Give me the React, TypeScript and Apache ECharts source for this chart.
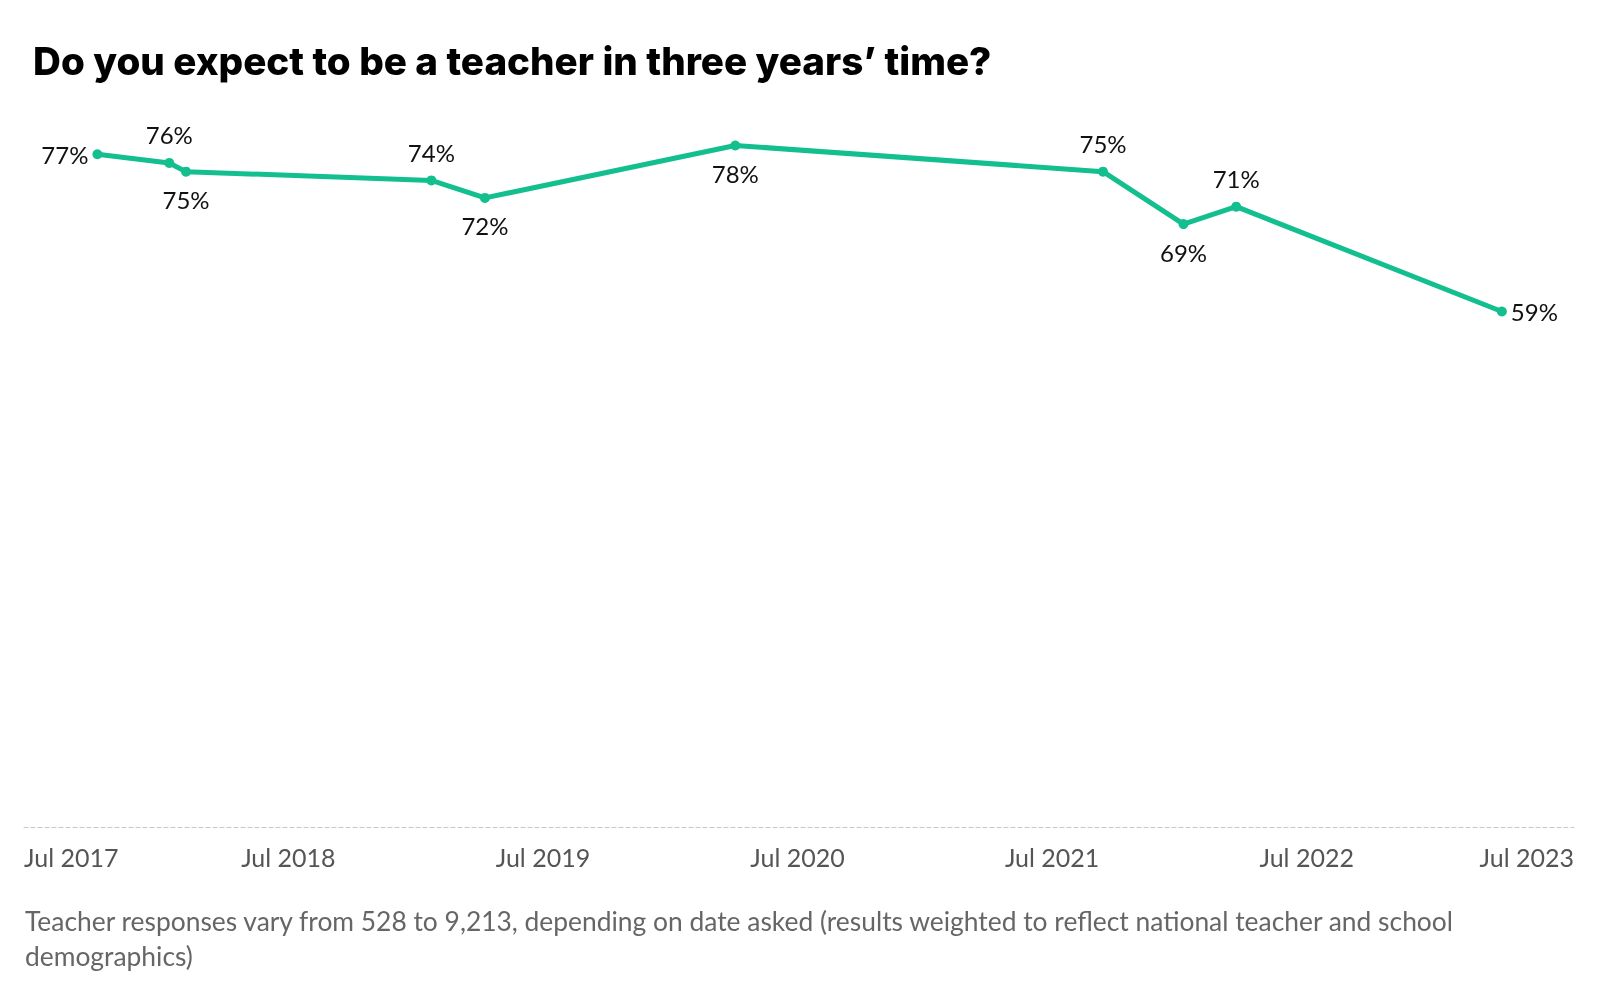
import React, { useEffect, useRef } from "react";
import * as echarts from "echarts";

const TITLE = "Do you expect to be a teacher in three years’ time?";
const FOOTNOTE =
  "Teacher responses vary from 528 to 9,213, depending on date asked (results weighted to reflect national teacher and school demographics)";

const surveyDates = [
  "2017-10-01",
  "2018-01-13",
  "2018-02-06",
  "2019-01-24",
  "2019-04-09",
  "2020-04-03",
  "2021-09-13",
  "2022-01-07",
  "2022-03-22",
  "2023-04-07",
];
const expectTeacher = [77, 76, 75, 74, 72, 78, 75, 69, 71, 59];
const labelPositions = ["left", "top", "bottom", "top", "bottom", "bottom", "top", "bottom", "top", "right"];
const tickYears = [2017, 2018, 2019, 2020, 2021, 2022, 2023];

const ORIGIN = { y: 2017, m: 7 };
const AXIS_MIN = -0.46;
const AXIS_MAX = 72.6;

function monthsSinceOrigin(d: string): number {
  const [y, m, day] = d.split("-").map(Number);
  const dim = new Date(y, m, 0).getDate();
  return (y - ORIGIN.y) * 12 + (m - ORIGIN.m) + (day - 1) / dim;
}

export default function App() {
  const ref = useRef<HTMLDivElement>(null);
  useEffect(() => {
    if (!ref.current) return;
    const chart = echarts.init(ref.current, null, { renderer: "svg" });
    const font = "Lato, 'Noto Sans', sans-serif";
    const titleFont = "Inter, Lato, sans-serif";
    const tickValues = tickYears.map((y, i) =>
      i === 0 ? AXIS_MIN : i === tickYears.length - 1 ? AXIS_MAX : (y - ORIGIN.y) * 12
    );
    chart.setOption({
      animation: false,
      textStyle: { fontFamily: font },
      title: {
        text: TITLE,
        left: 28,
        top: 36,
        textStyle: { fontFamily: titleFont, fontSize: 38.6, fontWeight: 800, color: "#000" },
      },
      grid: { left: 24, right: 26, top: 128, bottom: 173, containLabel: false },
      xAxis: {
        type: "value",
        min: AXIS_MIN,
        max: AXIS_MAX,
        axisLine: { show: true, lineStyle: { color: "#c8c8c8", type: [4, 3], width: 1 } },
        axisTick: { show: false },
        splitLine: { show: false },
        axisLabel: {
          customValues: tickValues,
          alignMinLabel: "left",
          alignMaxLabel: "right",
          margin: 17,
          fontSize: 25,
          color: "#555",
          fontFamily: font,
          formatter: (v: number) => "Jul " + (ORIGIN.y + Math.round(v / 12)),
        },
      },
      yAxis: {
        type: "value",
        min: 0,
        max: 80,
        show: false,
        splitLine: { show: false },
      },
      series: [
        {
          type: "line",
          data: surveyDates.map((d, i) => ({
            value: [monthsSinceOrigin(d), expectTeacher[i]],
            label: {
              position: labelPositions[i],
              distance: labelPositions[i] === "left" || labelPositions[i] === "right" ? 4 : 11,
            },
          })),
          symbol: "circle",
          symbolSize: 10,
          lineStyle: { color: "#14bf8f", width: 5 },
          itemStyle: { color: "#14bf8f" },
          label: {
            show: true,
            formatter: (p: any) => p.value[1] + "%",
            fontSize: 24,
            color: "#111",
            fontFamily: font,
          },
        },
      ],
      graphic: [
        {
          type: "text",
          left: 25,
          top: 903,
          style: {
            text: FOOTNOTE,
            width: 1500,
            overflow: "break",
            fontSize: 26.4,
            lineHeight: 35,
            fill: "#666",
            fontFamily: font,
          },
        },
      ],
    });
    return () => chart.dispose();
  }, []);
  return <div ref={ref} style={{ position: "fixed", left: 0, top: 0, width: 1600, height: 1000 }} />;
}
